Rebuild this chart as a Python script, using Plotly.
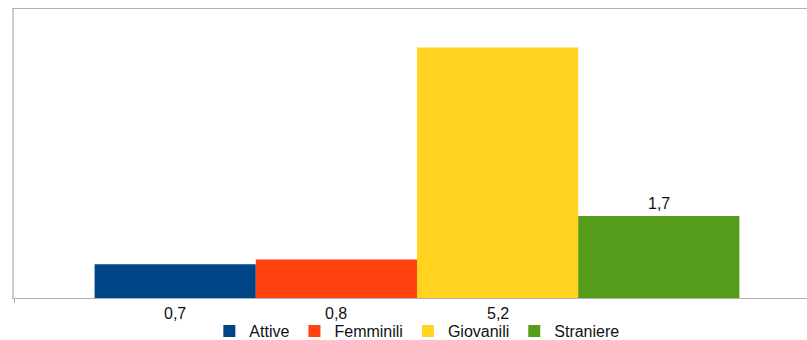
import plotly.graph_objects as go

# Tasso di disoccupazione per categoria
categories = ["Attive", "Femminili", "Giovanili", "Straniere"]
values = [0.7, 0.8, 5.2, 1.7]
colors = ["#004586", "#ff420e", "#ffd320", "#579d1c"]
# Etichette sotto l'asse per le prime tre serie, sopra la barra per l'ultima
label_below = [True, True, True, False]

FONT = "Liberation Sans, Arial, sans-serif"
SIZE = 16

fig = go.Figure()
for name, v, c in zip(categories, values, colors):
    fig.add_trace(go.Bar(
        x=[""], y=[v], name=name,
        marker=dict(color=c, line=dict(width=0)),
        hoverinfo="name+y",
    ))

n = len(categories)
group_width = 0.8
bar_w = group_width / n
for i, (v, below) in enumerate(zip(values, label_below)):
    xc = -group_width / 2 + bar_w * (i + 0.5)
    txt = f"{v:.1f}".replace(".", ",")
    if below:
        fig.add_annotation(x=xc, y=0, text=txt, showarrow=False,
                           yanchor="top", yshift=-5,
                           font=dict(family=FONT, size=SIZE, color="#111111"))
    else:
        fig.add_annotation(x=xc, y=v, text=txt, showarrow=False,
                           yanchor="bottom", yshift=2,
                           font=dict(family=FONT, size=SIZE, color="#111111"))

fig.update_layout(
    width=807, height=340,
    margin=dict(l=14, r=0, t=9, b=42, autoexpand=False),
    paper_bgcolor="white", plot_bgcolor="white",
    barmode="group", bargap=1 - group_width, bargroupgap=0,
    showlegend=True,
    legend=dict(orientation="h", x=0.508, xanchor="center",
                yref="container", y=0.0265, yanchor="middle",
                font=dict(family=FONT, size=SIZE, color="#111111"),
                itemwidth=30, tracegroupgap=0, borderwidth=0),
    font=dict(family=FONT, size=SIZE, color="#111111"),
)
fig.update_xaxes(
    range=[-0.5, 0.4839], tickson="boundaries", ticks="outside",
    ticklen=4, tickcolor="#b3b3b3", showticklabels=False,
    showline=True, linecolor="#b3b3b3", linewidth=1, mirror=True,
    showgrid=False, zeroline=False,
)
fig.update_yaxes(
    range=[0, 6], showticklabels=False, ticks="",
    showline=True, linecolor="#d0d0d0", linewidth=2,
    showgrid=False, zeroline=False,
)

fig.write_html("out.html")
